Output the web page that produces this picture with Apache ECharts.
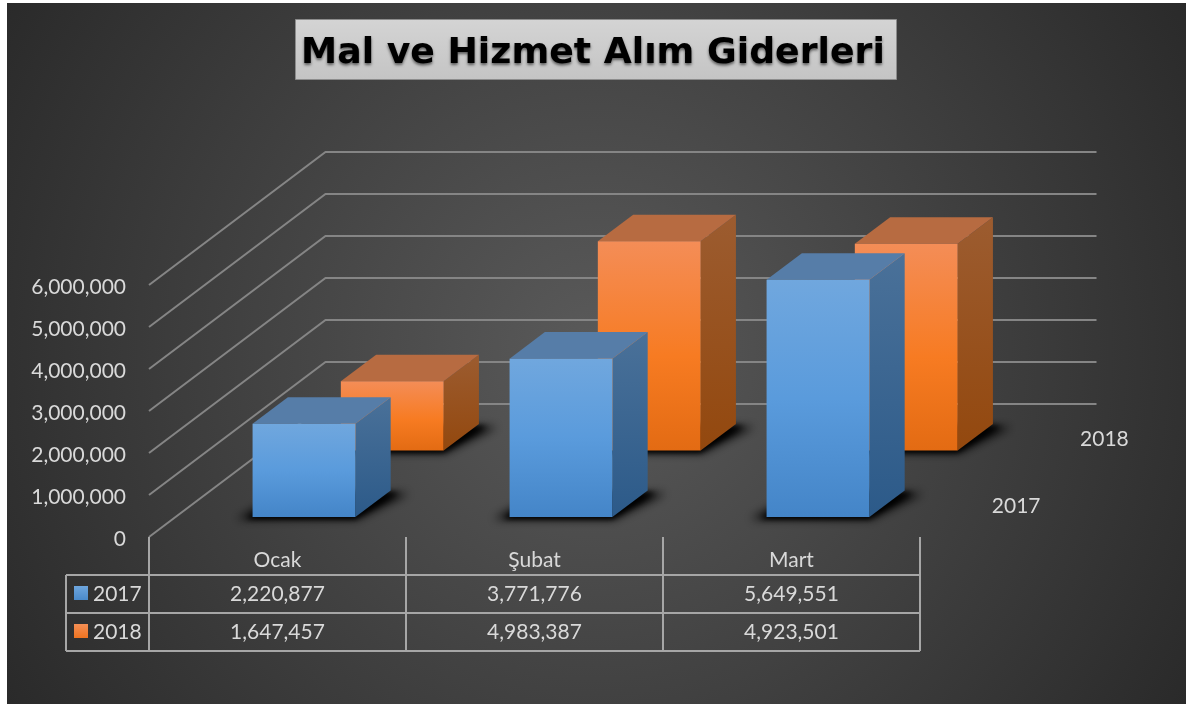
<!DOCTYPE html>
<html>
<head>
<meta charset="utf-8">
<style>
  html, body { margin: 0; padding: 0; background: #fff; }
  #chart { width: 1186px; height: 704px; }
</style>
<script src="https://cdn.jsdelivr.net/npm/echarts@6/dist/echarts.min.js"></script>
</head>
<body>
<div id="chart"></div>
<script>
const titleText = 'Mal ve Hizmet Alım Giderleri'
const categories = ['Ocak', 'Şubat', 'Mart']
const yTicks = [0, 1000000, 2000000, 3000000, 4000000, 5000000, 6000000]
const values2017 = [2220877, 3771776, 5649551]
const values2018 = [1647457, 4983387, 4923501]
const years = ['2017', '2018']

const FONT = 'Lato, "Noto Sans", sans-serif'
const TEXT = '#d9d9d9'
const LINE = '#a6a6a6'
const WALL = '#858585'

// full depth of the 3d box in pixels
const DEPTH_X = 176.5
const DEPTH_Y = -133
const BAR_WIDTH = 0.4 // share of a category band
const SHADOW_SHIFT = 3000 // casting shape sits off canvas, only its blur shows

const vGrad = (stops) => ({
  type: 'linear', x: 0, y: 0, x2: 0, y2: 1,
  colorStops: stops.map(([offset, color]) => ({ offset, color }))
})

const blue = {
  swatch: vGrad([[0, '#6ea6de'], [1, '#4a8acb']]),
  front: vGrad([[0, '#70a7de'], [0.5, '#5a9bdc'], [1, '#4485c8']]),
  side: vGrad([[0, '#4a7199'], [1, '#2c5a89']]),
  top: '#567da8'
}
const orange = {
  swatch: vGrad([[0, '#f58f55'], [1, '#ee7320']]),
  front: vGrad([[0, '#f48d57'], [0.55, '#f77b22'], [1, '#e36b13']]),
  side: vGrad([[0, '#9c5c30'], [1, '#93480e']]),
  top: '#b76b41'
}

function poly(points, fill, extra) {
  return { type: 'polygon', shape: { points }, style: { fill, ...(extra || {}) } }
}

function softShadow(points, blur) {
  return poly(points.map(([x, y]) => [x - SHADOW_SHIFT, y]), '#000', {
    shadowBlur: blur,
    shadowColor: 'rgba(0,0,0,0.95)',
    shadowOffsetX: SHADOW_SHIFT
  })
}

// one 3d column; depth0/depth1 are fractions of the box depth
function barRenderer(palette, depth0, depth1) {
  return function (params, api) {
    const idx = api.value(0)
    const band = api.size([1, 0])[0]
    const base = api.coord([idx, 0])
    const top = api.coord([idx, api.value(1)])
    const half = band * BAR_WIDTH / 2
    const ox = depth0 * DEPTH_X
    const oy = depth0 * DEPTH_Y
    const dx = (depth1 - depth0) * DEPTH_X
    const dy = (depth1 - depth0) * DEPTH_Y
    const x0 = base[0] + ox - half
    const x1 = base[0] + ox + half
    const y0 = base[1] + oy
    const y1 = top[1] + oy
    return {
      type: 'group',
      children: [
        softShadow([[x0 - 16, y0 + 2], [x1 + 2, y0 + 2], [x1 + dx + 18, y0 + dy + 3], [x0 + dx, y0 + dy]], 10),
        softShadow([[x0 - 6, y0 + 2], [x1, y0 + 2], [x1 + dx + 8, y0 + dy + 2], [x0 + dx, y0 + dy]], 5),
        poly([[x1, y1], [x1 + dx, y1 + dy], [x1 + dx, y0 + dy], [x1, y0]], palette.side),
        poly([[x0, y1], [x0 + dx, y1 + dy], [x1 + dx, y1 + dy], [x1, y1]], palette.top),
        { type: 'rect', shape: { x: x0, y: y1, width: x1 - x0, height: y0 - y1 }, style: { fill: palette.front } }
      ]
    }
  }
}

function renderWall(params, api) {
  const band = api.size([1, 0])[0]
  const p = api.coord([0, api.value(1)])
  const left = p[0] - band / 2
  const right = left + band * categories.length
  return {
    type: 'polyline',
    shape: { points: [[left, p[1]], [left + DEPTH_X, p[1] + DEPTH_Y], [right + DEPTH_X, p[1] + DEPTH_Y]] },
    style: { stroke: WALL, lineWidth: 2, fill: null }
  }
}

function renderDepthLabel(params, api) {
  const band = api.size([1, 0])[0]
  const p = api.coord([categories.length - 1, 0])
  const depth = params.dataIndex === 0 ? 0.25 : 0.75
  return {
    type: 'text',
    style: {
      x: p[0] + band / 2 + depth * DEPTH_X + 52,
      y: p[1] + depth * DEPTH_Y + 2,
      text: years[params.dataIndex],
      fill: TEXT,
      fontSize: 21,
      fontFamily: FONT,
      align: 'center',
      verticalAlign: 'middle'
    }
  }
}

function cellText(x, y, text, align) {
  return {
    type: 'text',
    style: { x, y, text, fill: TEXT, fontSize: 21, fontFamily: FONT, align, verticalAlign: 'middle' }
  }
}

function lineEl(x1, y1, x2, y2) {
  return { type: 'line', shape: { x1, y1, x2, y2 }, style: { stroke: LINE, lineWidth: 2 } }
}

// data table under the axis, one call per category
function renderTable(params, api) {
  const idx = api.value(0)
  const band = api.size([1, 0])[0]
  const base = api.coord([idx, 0])
  const left = base[0] - band / 2
  const right = left + band
  const y0 = base[1]
  const rows = [y0 + 38, y0 + 76, y0 + 114]
  const children = [
    lineEl(right, y0, right, rows[2]),
    lineEl(left, rows[0], right, rows[0]),
    lineEl(left, rows[1], right, rows[1]),
    lineEl(left, rows[2], right, rows[2]),
    cellText(base[0], y0 + 57, api.value(1).toLocaleString('en-US'), 'center'),
    cellText(base[0], y0 + 95, api.value(2).toLocaleString('en-US'), 'center')
  ]
  if (idx === 0) {
    const keyLeft = left - 83
    children.push(
      lineEl(left, y0, left, rows[2]),
      lineEl(keyLeft, rows[0], left, rows[0]),
      lineEl(keyLeft, rows[1], left, rows[1]),
      lineEl(keyLeft, rows[2], left, rows[2]),
      lineEl(keyLeft, rows[0], keyLeft, rows[2]),
      { type: 'rect', shape: { x: keyLeft + 8, y: y0 + 49, width: 14, height: 14 }, style: { fill: blue.swatch } },
      { type: 'rect', shape: { x: keyLeft + 8, y: y0 + 87, width: 14, height: 14 }, style: { fill: orange.swatch } },
      cellText(keyLeft + 27, y0 + 57, years[0], 'left'),
      cellText(keyLeft + 27, y0 + 95, years[1], 'left')
    )
  }
  return { type: 'group', children }
}

const chart = echarts.init(document.getElementById('chart'), null, { renderer: 'canvas' })

chart.setOption({
  animation: false,
  backgroundColor: '#ffffff',
  title: {
    text: titleText,
    left: 588,
    top: 31,
    textAlign: 'center',
    textStyle: {
      fontFamily: '"DejaVu Sans", sans-serif',
      fontWeight: 'bold',
      fontSize: 36.25,
      color: '#000',
      textShadowColor: 'rgba(0,0,0,0.55)',
      textShadowBlur: 3,
      textShadowOffsetY: 2
    }
  },
  graphic: [
    {
      type: 'rect',
      z: -10,
      shape: { x: 7, y: 3, width: 1179, height: 701 },
      style: {
        fill: {
          type: 'radial', x: 596, y: 350, r: 700, global: true,
          colorStops: [{ offset: 0, color: '#5a5a5a' }, { offset: 1, color: '#292929' }]
        }
      }
    },
    {
      type: 'rect',
      z: -9,
      shape: { x: 295.5, y: 19.5, width: 601, height: 60 },
      style: {
        stroke: '#8c8c8c',
        lineWidth: 1,
        fill: vGrad([[0, '#d4d4d4'], [1, '#c4c4c4']])
      }
    }
  ],
  grid: { left: 149, width: 771, top: 285, height: 252 },
  xAxis: {
    type: 'category',
    data: categories,
    axisLine: { show: false },
    axisTick: { show: false },
    axisLabel: { color: TEXT, fontFamily: FONT, fontSize: 21, margin: 13 }
  },
  yAxis: {
    type: 'value',
    min: 0,
    max: 6000000,
    interval: 1000000,
    axisLine: { show: false },
    axisTick: { show: false },
    splitLine: { show: false },
    axisLabel: {
      color: TEXT,
      fontFamily: FONT,
      fontSize: 21,
      margin: 23,
      verticalAlign: 'top',
      lineHeight: 4, // nudges the labels 2px under their tick
      formatter: (v) => v.toLocaleString('en-US')
    }
  },
  series: [
    {
      type: 'custom',
      name: 'walls',
      silent: true,
      z: 1,
      encode: { x: 0, y: 1 },
      data: yTicks.map((v) => [0, v]),
      renderItem: renderWall
    },
    {
      type: 'custom',
      name: years[1],
      z: 2,
      encode: { x: 0, y: 1 },
      data: values2018.map((v, i) => [i, v]),
      renderItem: barRenderer(orange, 0.65, 0.85)
    },
    {
      type: 'custom',
      name: years[0],
      z: 3,
      encode: { x: 0, y: 1 },
      data: values2017.map((v, i) => [i, v]),
      renderItem: barRenderer(blue, 0.15, 0.35)
    },
    {
      type: 'custom',
      name: 'depth labels',
      silent: true,
      z: 4,
      encode: { x: 0, y: 1 },
      data: years.map(() => [0, 0]),
      renderItem: renderDepthLabel
    },
    {
      type: 'custom',
      name: 'table',
      silent: true,
      z: 4,
      encode: { x: 0, y: 1 },
      data: categories.map((c, i) => [i, values2017[i], values2018[i]]),
      renderItem: renderTable
    }
  ]
})
</script>
</body>
</html>
